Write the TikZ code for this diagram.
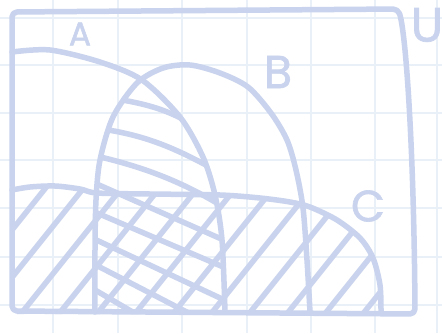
\documentclass[tikz,border=0pt]{standalone}
\usepackage{fontspec}
\newfontfamily\handfont[FakeBold=1.5]{Poppins}
\definecolor{ink}{RGB}{201,211,237}
\definecolor{gridline}{RGB}{234,240,248}
\tikzset{
  outline/.style={draw=ink, line width=5.5pt, line cap=round, line join=round},
  hatch/.style={draw=ink, line width=5.5pt, line cap=round},
  gridrule/.style={draw=gridline, line width=1.5pt},
  setlabel/.style={text=ink, inner sep=0pt},
}

\begin{document}
\begin{tikzpicture}[x=1pt,y=-1pt]
  \useasboundingbox[fill=white] (0,0) rectangle (442,333);
  \foreach \gx in {53,118,182,247,311,375,437}
    \draw[gridrule] (\gx,0) -- (\gx,333);
  \foreach \gy in {18,65,113,160,208,257,305}
    \draw[gridrule] (0,\gy) -- (442,\gy);

  \begin{scope}
    \clip (95,314) -- plot[smooth] coordinates {(95,250) (96,200) (100,160) (113,117) (137,83) (163,68) (190,65) (220,73) (248,87) (271,113) (287,140) (296,170) (303,208) (307,260) (310,314)} -- cycle;
    \clip plot[smooth] coordinates {(12,52) (50,50) (100,62) (142,80) (180,117) (203,157) (215,195) (222,240) (225,314)} -- (12,314) -- cycle;
    \draw[hatch] (110,98) .. controls (150,104) and (175,112) .. (200,130);
    \draw[hatch] (95,128) .. controls (140,134) and (170,145) .. (215,170);
    \draw[hatch] (92,155) .. controls (140,166) and (180,180) .. (225,208);
    \draw[hatch] (90,181) -- (235,245);
    \draw[hatch] (90,210) -- (235,272);
    \draw[hatch] (90,237) -- (235,305);
    \draw[hatch] (90,262) -- (235,337);
    \draw[hatch] (90,287) -- (235,372);
  \end{scope}

  \begin{scope}
    \clip plot[smooth] coordinates {(12,190) (30,187) (55,186) (80,189) (97,193) (150,194) (220,195) (260,198) (290,202) (310,207) (337,220) (360,238) (373,258) (380,285) (381,314)} -- (12,314) -- cycle;
    \foreach \bx in {-68,-30,8,46,84,122,160,198,236,274,312,350,388}
      \draw[hatch] (\bx,330) -- ++(140,-175);
  \end{scope}

  \draw[outline, rounded corners=5pt] (12,311) -- (12,12) -- (398,9) .. controls (406,33) and (414,150) .. (415,314) -- cycle;
  \draw[outline] plot[smooth] coordinates {(12,52) (50,50) (100,62) (142,80) (180,117) (203,157) (215,195) (222,240) (225,312)};
  \draw[outline] plot[smooth] coordinates {(95,312) (95,250) (96,200) (100,160) (113,117) (137,83) (163,68) (190,65) (220,73) (248,87) (271,113) (287,140) (296,170) (303,208) (307,260) (310,312)};
  \draw[outline] plot[smooth] coordinates {(12,190) (30,187) (55,186) (80,189) (97,193) (150,194) (220,195) (260,198) (290,202) (310,207) (337,220) (360,238) (373,258) (380,285) (381,312)};

  \node[setlabel, font=\handfont\fontsize{33}{33}\selectfont] (labelA) at (80,34) {A};
  \node[setlabel, font=\handfont\fontsize{46}{46}\selectfont] (labelB) at (278,72) {B};
  \node[setlabel, font=\handfont\fontsize{44}{44}\selectfont] (labelC) at (368,206) {C};
  \node[setlabel, font=\handfont\fontsize{48}{48}\selectfont] (labelU) at (427,25) {U};
\end{tikzpicture}
\end{document}
